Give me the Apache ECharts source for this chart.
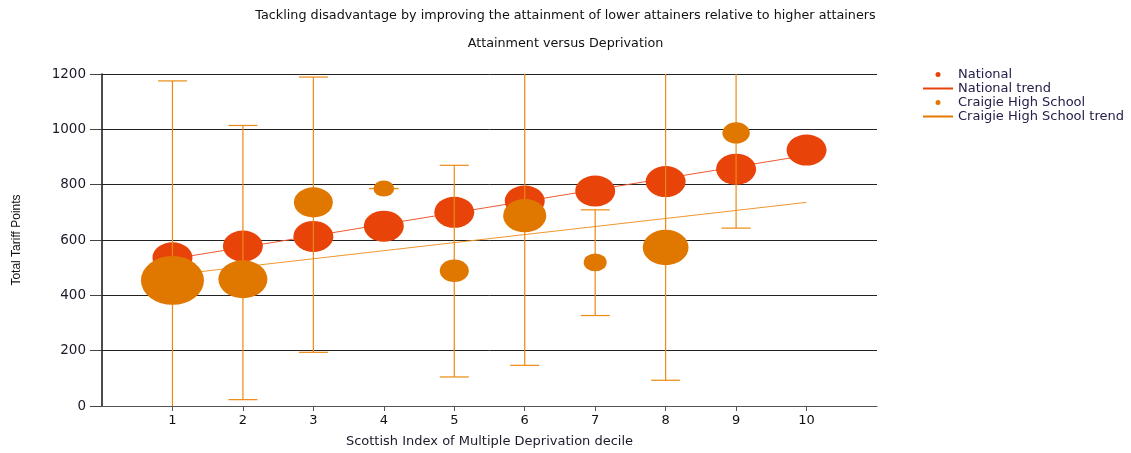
<!DOCTYPE html>
<html>
<head>
<meta charset="utf-8">
<script src="https://cdn.jsdelivr.net/npm/echarts@6/dist/echarts.min.js"></script>
<style>
html,body{margin:0;padding:0;background:#fff;}
#chart{width:1131px;height:453px;}
</style>
</head>
<body>
<div id="chart"></div>
<script>
// ---- data ----
const deciles = [1, 2, 3, 4, 5, 6, 7, 8, 9, 10];
const nationalValues = [536, 578, 613, 650, 700, 741, 777, 811, 856, 925];
const nationalWeight = [100, 100, 100, 100, 100, 100, 100, 100, 100, 100];
const schoolDeciles = [1, 2, 3, 4, 5, 6, 7, 8, 9];
const schoolValues = [454, 458, 736, 786, 489, 688, 519, 573, 987];
const schoolWeight = [248, 150, 95, 27, 53, 116, 33, 131, 47];
const schoolUpper = [1175, 1014, 1189, 786, 870, 1300, 709, 1300, 1300];
const schoolLower = [-60, 23, 194, 786, 105, 147, 327, 93, 643];
const trendX = [1, 10];
const nationalTrend = [532, 906];
const schoolTrend = [474, 736];
const yTicks = [0, 200, 400, 600, 800, 1000, 1200];
const xTicks = [1, 2, 3, 4, 5, 6, 7, 8, 9, 10];

const titleText = 'Tackling disadvantage by improving the attainment of lower attainers relative to higher attainers';
const subTitleText = 'Attainment versus Deprivation';

// ---- build ----
const RED = '#E8440A', ORANGE = '#E07800', ERR = '#EB8A12';
const Y_MIN = yTicks[0], Y_MAX = yTicks[yTicks.length - 1];
function bubbleSize(w) {
  const d = 40 * Math.sqrt(w / 100);
  return [d, d * 0.775];
}
const LINE_ICON = 'path://M0,0H30V2H0Z';

const chart = echarts.init(document.getElementById('chart'), null, {renderer: 'canvas'});
const option = {
  animation: false,
  backgroundColor: '#fff',
  title: [
    {text: titleText, left: 'center', top: 9, padding: 0, textStyle: {fontFamily: 'DejaVu Sans', fontSize: 12.75, fontWeight: 'normal', color: '#111'}},
    {text: subTitleText, left: 'center', top: 37, padding: 0, textStyle: {fontFamily: 'DejaVu Sans', fontSize: 12.75, fontWeight: 'normal', color: '#111'}}
  ],
  legend: {
    orient: 'vertical', left: 918, top: 63,
    itemWidth: 30, itemHeight: 5, itemGap: 1, itemSymbolKeepAspect: true,
    textStyle: {fontFamily: 'DejaVu Sans', fontSize: 13, color: '#24204a'},
    data: [
      {name: 'National', icon: 'circle'},
      {name: 'National trend', icon: LINE_ICON, itemStyle: {color: RED}},
      {name: 'Craigie High School', icon: 'circle'},
      {name: 'Craigie High School trend', icon: LINE_ICON, itemStyle: {color: ORANGE}}
    ]
  },
  grid: {left: 102, top: 74, right: 254, bottom: 46},
  xAxis: {
    type: 'value', min: 0, max: 11, interval: 1,
    name: 'Scottish Index of Multiple Deprivation decile',
    nameLocation: 'middle', nameGap: 29,
    nameTextStyle: {fontFamily: 'DejaVu Sans', fontSize: 13, color: '#1a1a2a'},
    axisLine: {show: true, onZero: false, lineStyle: {color: '#555', width: 1}},
    axisTick: {show: true, length: 5, customValues: xTicks, lineStyle: {color: '#555'}},
    axisLabel: {customValues: xTicks, margin: 8, fontFamily: 'DejaVu Sans', fontSize: 13, color: '#111'},
    splitLine: {show: false}
  },
  yAxis: {
    type: 'value', min: Y_MIN, max: Y_MAX, interval: 200,
    name: 'Total Tariff Points', nameLocation: 'middle', nameRotate: 90, nameGap: 79,
    nameTextStyle: {fontFamily: 'Liberation Sans', fontSize: 12, color: '#111'},
    axisLine: {show: true, lineStyle: {color: '#111', width: 1.5}},
    axisTick: {show: true, length: 12, lineStyle: {color: '#444'}},
    axisLabel: {margin: 16, fontFamily: 'DejaVu Sans', fontSize: 13.5, color: '#1a1a2a', formatter: v => String(v)},
    splitLine: {show: true, lineStyle: {color: '#222', width: 1}}
  },
  series: [
    {
      name: 'National trend', type: 'line', z: 1, symbol: 'none', silent: true,
      color: RED, lineStyle: {color: '#EE5A30', width: 1},
      data: trendX.map((x, i) => [x, nationalTrend[i]])
    },
    {
      name: 'Craigie High School trend', type: 'line', z: 1, symbol: 'none', silent: true,
      color: ORANGE, lineStyle: {color: '#F0962E', width: 1},
      data: trendX.map((x, i) => [x, schoolTrend[i]])
    },
    {
      name: 'National', type: 'scatter', z: 2, color: RED,
      symbolSize: (v, p) => bubbleSize(nationalWeight[p.dataIndex]),
      itemStyle: {opacity: 1},
      data: deciles.map((x, i) => [x, nationalValues[i]])
    },
    {
      name: 'errorbars', type: 'custom', z: 3, silent: true,
      renderItem: function (params, api) {
        const x = api.value(0), hi = api.value(1), lo = api.value(2);
        const top = api.coord([x, Math.min(hi, Y_MAX)]);
        const bot = api.coord([x, Math.max(lo, Y_MIN)]);
        const half = 14.5;
        const st = {stroke: ERR, lineWidth: 1.2};
        const children = [{type: 'line', shape: {x1: top[0], y1: top[1], x2: bot[0], y2: bot[1]}, style: st}];
        if (hi <= Y_MAX) children.push({type: 'line', shape: {x1: top[0] - half, y1: top[1], x2: top[0] + half, y2: top[1]}, style: st});
        if (lo >= Y_MIN) children.push({type: 'line', shape: {x1: bot[0] - half, y1: bot[1], x2: bot[0] + half, y2: bot[1]}, style: st});
        return {type: 'group', children: children};
      },
      data: schoolDeciles.map((x, i) => [x, schoolUpper[i], schoolLower[i]])
    },
    {
      name: 'Craigie High School', type: 'scatter', z: 4, color: ORANGE,
      symbolSize: (v, p) => bubbleSize(schoolWeight[p.dataIndex]),
      itemStyle: {opacity: 1},
      data: schoolDeciles.map((x, i) => [x, schoolValues[i]])
    }
  ]
};
chart.setOption(option);
</script>
</body>
</html>
